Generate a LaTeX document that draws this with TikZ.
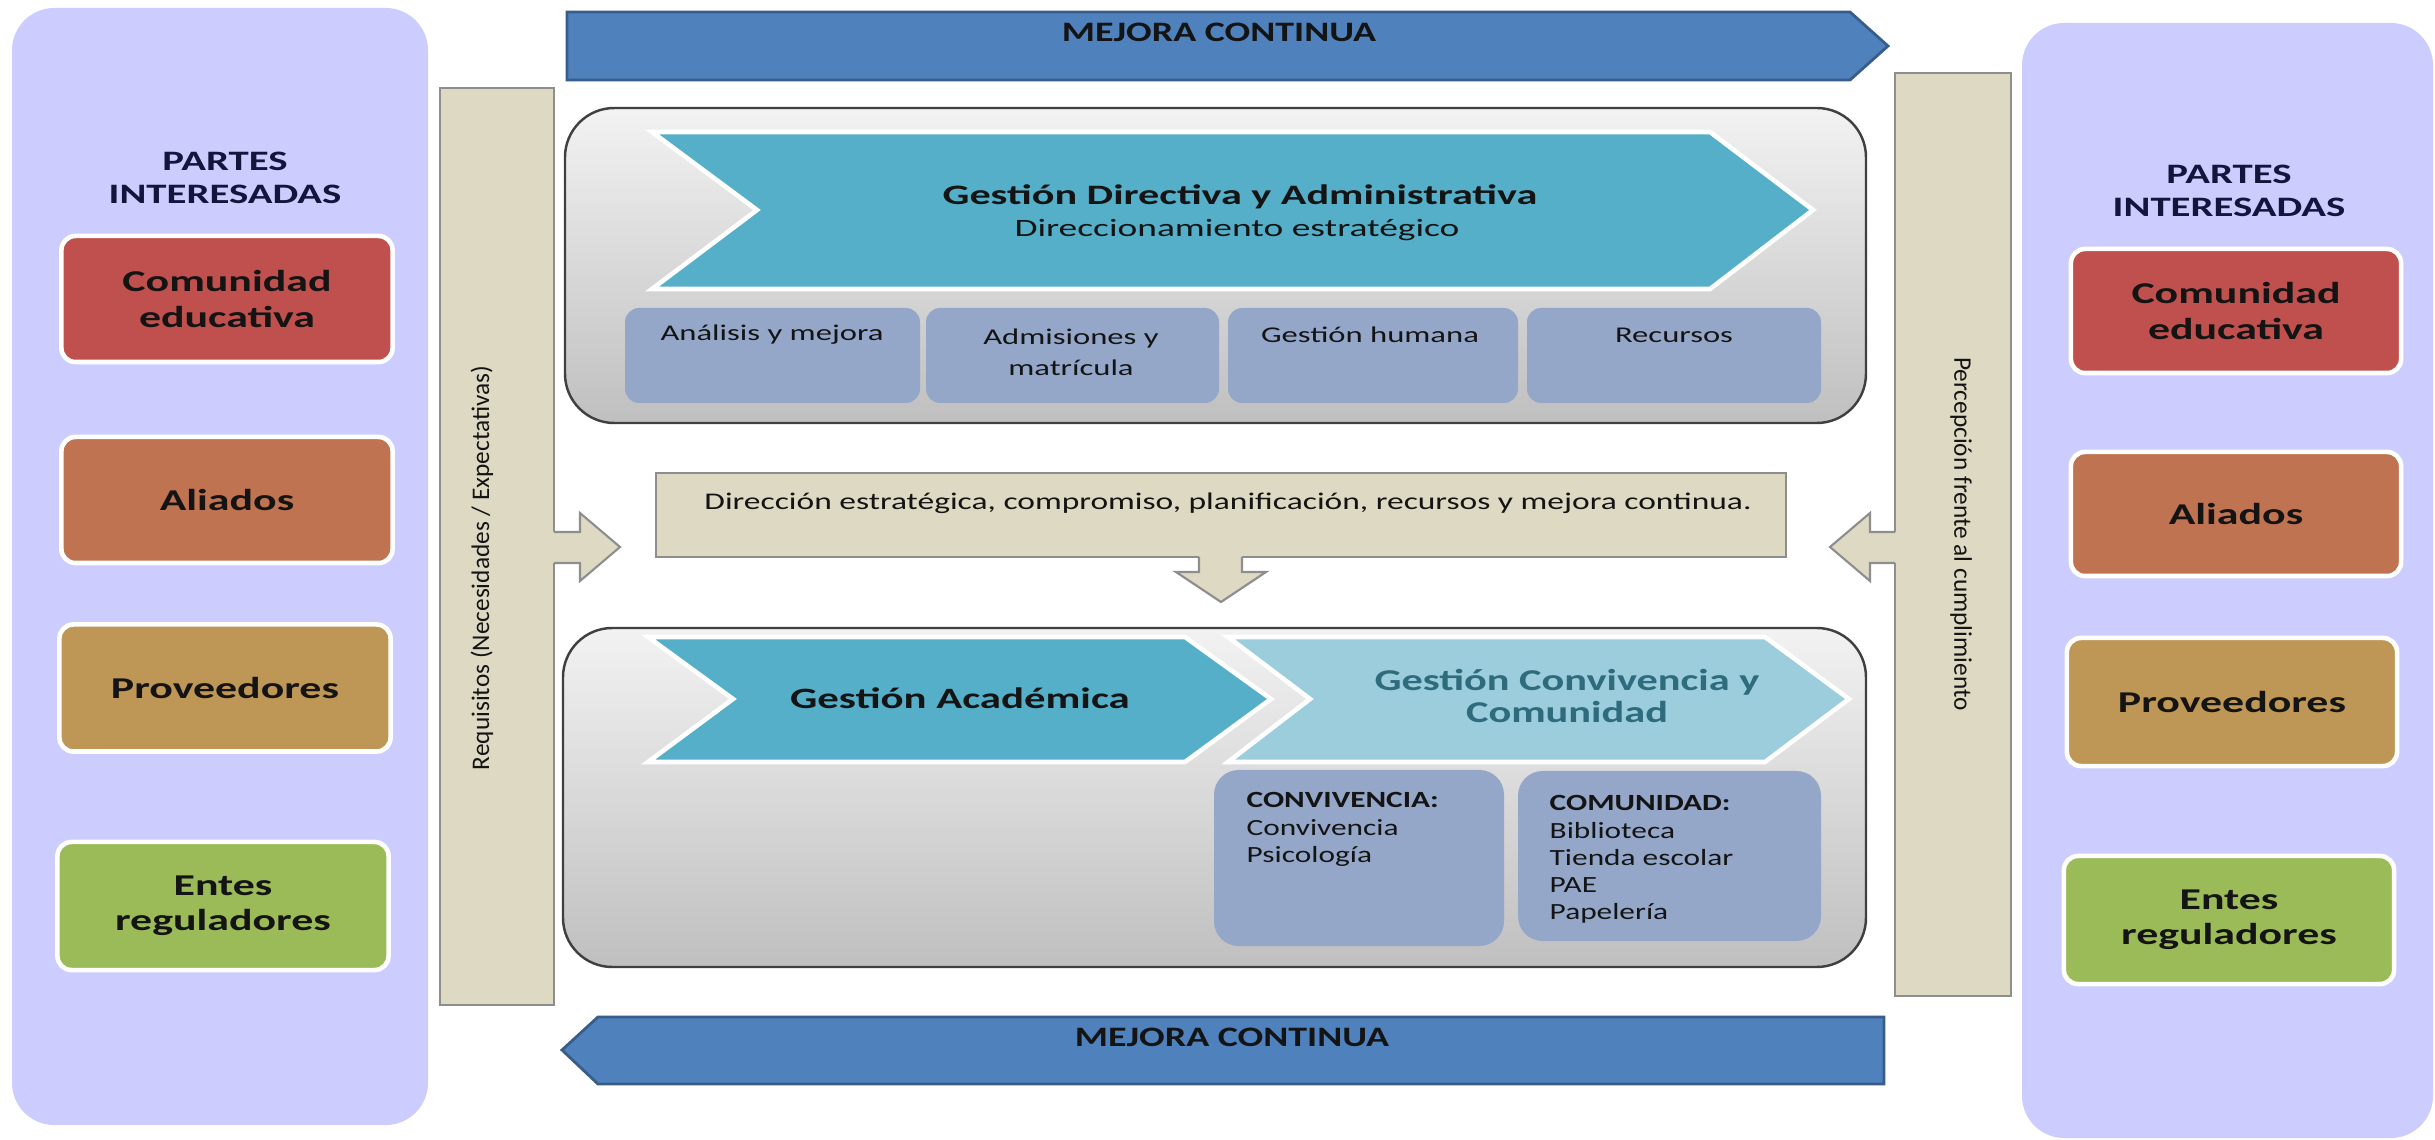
\documentclass[tikz,border=0pt]{standalone}
\usepackage{fontspec}
\setmainfont{Carlito}
\usepackage{graphicx}
\newcommand\xs[2][1.45]{\scalebox{#1}[1]{#2}}
\definecolor{lav}{HTML}{CCCCFF}
\definecolor{cRed}{HTML}{C0504D}
\definecolor{cAli}{HTML}{BF7350}
\definecolor{cPro}{HTML}{BE9655}
\definecolor{cEnt}{HTML}{9BBB59}
\definecolor{navy}{HTML}{14143C}
\definecolor{tanc}{HTML}{DDD9C3}
\definecolor{tanline}{HTML}{8E8E8E}
\definecolor{bluef}{HTML}{4F81BD}
\definecolor{blued}{HTML}{385D8A}
\definecolor{cyan1}{HTML}{55AFC8}
\definecolor{cyan2}{HTML}{9BCDDC}
\definecolor{subc}{HTML}{95A7C9}
\definecolor{tealtxt}{HTML}{2E6B7D}
\definecolor{txtd}{HTML}{141414}
\tikzset{
  panel/.style={fill=lav, rounded corners=12pt},
  pbox/.style={draw=white, line width=1.3pt, rounded corners=4pt, inner sep=0pt,
     minimum width=3.31cm, align=center, text=txtd,
     font=\fontsize{8.6}{10}\selectfont\bfseries},
  partes/.style={align=center, text=navy, font=\fontsize{8}{9.2}\selectfont\bfseries},
  barrow/.style={fill=bluef, draw=blued, line width=0.8pt, line join=miter},
  mejora/.style={anchor=base, text=txtd, font=\fontsize{8}{9}\selectfont\bfseries},
  tanbar/.style={fill=tanc, draw=tanline, line width=0.6pt},
  tanfill/.style={fill=tanc},
  tanedge/.style={draw=tanline, line width=0.6pt, line join=miter},
  vtext/.style={text=txtd, font=\fontsize{7.2}{8}\selectfont},
  greybox/.style={draw=black!75, line width=0.7pt, rounded corners=14pt,
     top color=black!5, bottom color=black!25},
  chev/.style={draw=white, line width=1.3pt, line join=miter},
  subbox/.style={fill=subc, rounded corners=4pt},
  subbox2/.style={fill=subc, rounded corners=7pt},
  subtxt/.style={text=txtd, font=\fontsize{6.4}{9}\selectfont},
  listtxt/.style={anchor=north west, inner sep=0pt, align=left, text=txtd,
     font=\fontsize{6.6}{7.7}\selectfont},
}
\begin{document}
\begin{tikzpicture}[x=0.01cm, y=-0.01cm]
\useasboundingbox (0,0) rectangle (2435,1140);
\fill[white] (0,0) rectangle (2435,1140);

% ---------- side panels ----------
\fill[panel] (12,8) rectangle (428,1125);
\fill[panel] (2022,23) rectangle (2433,1138);

\node[partes] (lpartes) at (225,178) {\xs{PARTES}\\\xs{INTERESADAS}};
\node[pbox, fill=cRed, minimum height=1.26cm] (lcom) at (227,299) {\xs{Comunidad}\\\xs{educativa}};
\node[pbox, fill=cAli, minimum height=1.26cm] (lali) at (227,500) {\xs{Aliados}};
\node[pbox, fill=cPro, minimum height=1.27cm] (lpro) at (225,688) {\xs{Proveedores}};
\node[pbox, fill=cEnt, minimum height=1.28cm] (lent) at (223,906) {\xs{Entes}\\\xs{reguladores}};

\node[partes] (rpartes) at (2229,191) {\xs{PARTES}\\\xs{INTERESADAS}};
\node[pbox, fill=cRed, minimum height=1.24cm, minimum width=3.3cm] (rcom) at (2236,311) {\xs{Comunidad}\\\xs{educativa}};
\node[pbox, fill=cAli, minimum height=1.24cm, minimum width=3.3cm] (rali) at (2236,514) {\xs{Aliados}};
\node[pbox, fill=cPro, minimum height=1.28cm, minimum width=3.3cm] (rpro) at (2232,702) {\xs{Proveedores}};
\node[pbox, fill=cEnt, minimum height=1.28cm, minimum width=3.3cm] (rent) at (2229,920) {\xs{Entes}\\\xs{reguladores}};

% ---------- mejora continua arrows ----------
\draw[barrow] (567,12) -- (1850,12) -- (1888,46) -- (1850,80) -- (567,80) -- cycle;
\node[mejora] (mc1) at (1219,42) {\xs[1.35]{MEJORA CONTINUA}};
\draw[barrow] (1884,1017) -- (598,1017) -- (562,1050) -- (598,1084) -- (1884,1084) -- cycle;
\node[mejora] (mc2) at (1232,1046) {\xs[1.35]{MEJORA CONTINUA}};

% ---------- tan side bars ----------
\draw[tanbar] (440,88) rectangle (554,1005);
\node[vtext, rotate=90] (req) at (482,568) {Requisitos (Necesidades / Expectativas)};
\draw[tanbar] (1895,73) rectangle (2011,996);
\node[vtext, rotate=-90] (per) at (1961,534) {Percepción frente al cumplimiento};

% small block arrows
\fill[tanfill] (552,532) -- (580,532) -- (580,513) -- (620,547) -- (580,581) -- (580,563) -- (552,563) -- cycle;
\draw[tanedge] (554,532) -- (580,532) -- (580,513) -- (620,547) -- (580,581) -- (580,563) -- (554,563);
\fill[tanfill] (1897,532) -- (1870,532) -- (1870,513) -- (1830,547) -- (1870,581) -- (1870,563) -- (1897,563) -- cycle;
\draw[tanedge] (1895,532) -- (1870,532) -- (1870,513) -- (1830,547) -- (1870,581) -- (1870,563) -- (1895,563);

% ---------- direction box ----------
\draw[tanbar] (656,473) rectangle (1786,557);
\node[anchor=base, text=txtd, font=\fontsize{6.8}{8}\selectfont] (dir) at (1228,510)
  {\xs[1.4]{Dirección estratégica, compromiso, planificación, recursos y mejora continua.}};
\fill[tanfill] (1199,555) -- (1199,572) -- (1176,572) -- (1221,602) -- (1266,572) -- (1242,572) -- (1242,555) -- cycle;
\draw[tanedge] (1199,557) -- (1199,572) -- (1176,572) -- (1221,602) -- (1266,572) -- (1242,572) -- (1242,557);

% ---------- upper grey block ----------
\draw[greybox] (565,108) rectangle (1866,423);
\draw[chev, fill=cyan1] (652,132) -- (1710,132) -- (1813,210) -- (1710,289) -- (652,289) -- (757,210) -- cycle;
\node[anchor=base, text=txtd, font=\fontsize{8}{9}\selectfont\bfseries] (gd) at (1240,205)
  {\xs[1.5]{Gestión Directiva y Administrativa}};
\node[anchor=base, text=txtd, font=\fontsize{7.1}{8}\selectfont] (gd2) at (1237,237)
  {\xs[1.5]{Direccionamiento estratégico}};

\fill[subbox] (625,308) rectangle (920,403);
\fill[subbox] (926,308) rectangle (1219,403);
\fill[subbox] (1228,308) rectangle (1518,403);
\fill[subbox] (1527,308) rectangle (1821,403);
\node[subtxt, anchor=base] (s1) at (772,341) {\xs{Análisis y mejora}};
\node[subtxt, anchor=north, align=center, inner sep=0pt] (s2) at (1071,328) {\xs{Admisiones y}\\\xs{matrícula}};
\node[subtxt, anchor=base] (s3) at (1370,343) {\xs{Gestión humana}};
\node[subtxt, anchor=base] (s4) at (1674,343) {\xs{Recursos}};

% ---------- lower grey block ----------
\draw[greybox] (563,628) rectangle (1866,967);
\draw[chev, fill=cyan1] (648,637) -- (1185,637) -- (1271,699) -- (1185,762) -- (648,762) -- (733,699) -- cycle;
\draw[chev, fill=cyan2] (1228,637) -- (1765,637) -- (1849,699) -- (1765,762) -- (1228,762) -- (1310,699) -- cycle;
\node[anchor=base, text=txtd, font=\fontsize{8.4}{9}\selectfont\bfseries] (ga) at (960,709)
  {\xs[1.45]{Gestión Académica}};
\node[anchor=base, text=tealtxt, font=\fontsize{8.6}{9}\selectfont\bfseries] (gc1) at (1567,691)
  {\xs[1.4]{Gestión Convivencia y}};
\node[anchor=base, text=tealtxt, font=\fontsize{8.6}{9}\selectfont\bfseries] (gc2) at (1567,723)
  {\xs[1.4]{Comunidad}};

\fill[subbox2] (1214,770) rectangle (1504,946);
\fill[subbox2] (1518,771) rectangle (1821,941);
\node[listtxt] (conv) at (1246,792)
  {\xs[1.35]{\bfseries CONVIVENCIA:}\\\xs[1.35]{Convivencia}\\\xs[1.35]{Psicología}};
\node[listtxt] (comu) at (1549,795)
  {\xs[1.35]{\bfseries COMUNIDAD:}\\\xs[1.35]{Biblioteca}\\\xs[1.35]{Tienda escolar}\\\xs[1.35]{PAE}\\\xs[1.35]{Papelería}};
\end{tikzpicture}
\end{document}
